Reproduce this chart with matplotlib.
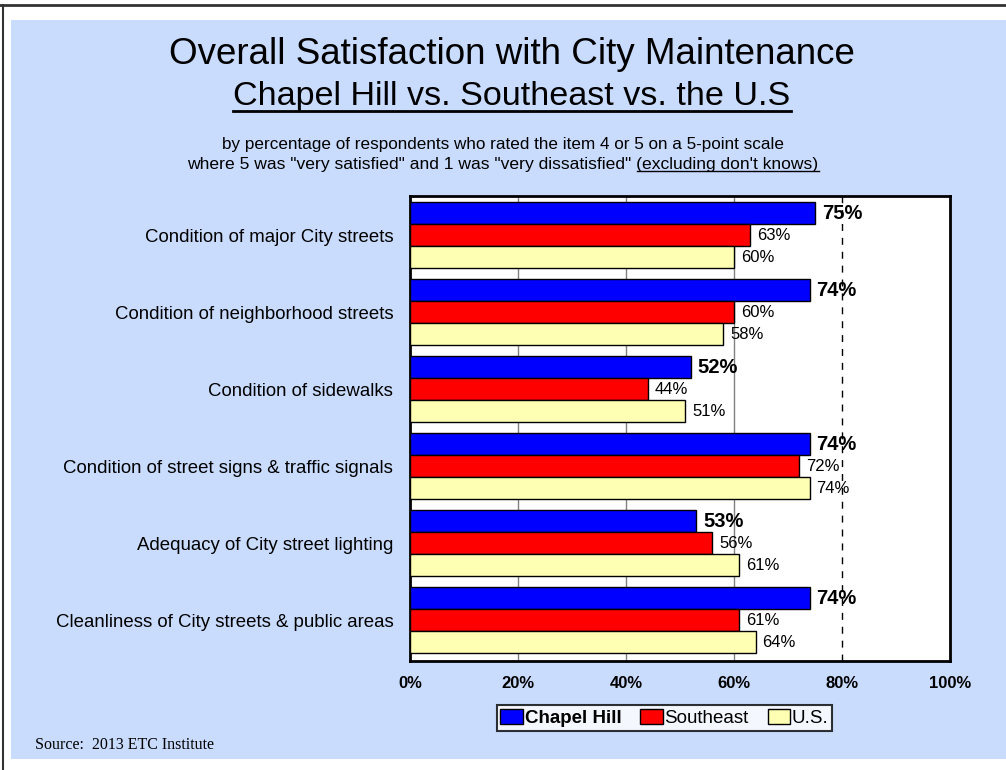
import matplotlib.pyplot as plt
from matplotlib.patches import Rectangle, Patch
from matplotlib.lines import Line2D

plt.rcParams['font.family'] = ['Liberation Sans', 'DejaVu Sans']

categories = [
    "Condition of major City streets",
    "Condition of neighborhood streets",
    "Condition of sidewalks",
    "Condition of street signs & traffic signals",
    "Adequacy of City street lighting",
    "Cleanliness of City streets & public areas",
]
chapel_hill = [75, 74, 52, 74, 53, 74]
southeast = [63, 60, 44, 72, 56, 61]
us = [60, 58, 51, 74, 61, 64]
series_names = ["Chapel Hill", "Southeast", "U.S."]
colors = ["#0000FF", "#FF0000", "#FFFFB3"]
xticks = [0, 20, 40, 60, 80, 100]

W, H = 1006, 770
fig = plt.figure(figsize=(W / 100, H / 100), dpi=100)
fig.patch.set_facecolor("white")

# light blue panel and frame lines
fig.add_artist(Rectangle((11 / W, 1 - 759 / H), (W - 11) / W, (759 - 20) / H,
                         transform=fig.transFigure, facecolor="#C9DCFE", edgecolor="none", zorder=0))
fig.add_artist(Line2D([0, 1], [1 - 4.5 / H, 1 - 4.5 / H], transform=fig.transFigure, color="#333333", lw=2))
fig.add_artist(Line2D([2.5 / W, 2.5 / W], [0, 1 - 4.5 / H], transform=fig.transFigure, color="#333333", lw=1.5))

ax = fig.add_axes([410 / W, 1 - 661 / H, 540 / W, 465 / H])
ax.set_facecolor("white")

bh = 22 / 77
for i in range(len(categories)):
    for j, vals in enumerate([chapel_hill, southeast, us]):
        y = i + bh * (j + 0.5)
        ax.barh(y, vals[i], height=bh, color=colors[j], edgecolor="black", linewidth=1, zorder=3)
        if j == 0:
            ax.annotate(f"{vals[i]}%", (vals[i], y), xytext=(5, 0), textcoords="offset points",
                        va="center", ha="left", fontsize=14.5, fontweight="bold", zorder=5)
        else:
            ax.annotate(f"{vals[i]}%", (vals[i], y), xytext=(5, 0), textcoords="offset points",
                        va="center", ha="left", fontsize=12, zorder=5)

for x in [20, 40, 60]:
    ax.axvline(x, color="#808080", lw=1, zorder=1)
ax.axvline(80, color="black", lw=1, linestyle=(0, (5, 5)), zorder=4)

ax.set_xlim(0, 100)
ax.set_ylim(5.961, -0.078)
ax.set_xticks(xticks)
ax.set_xticklabels([f"{x}%" for x in xticks], fontsize=12, fontweight="bold")
ax.set_yticks([i + 1.5 * bh for i in range(len(categories))])
ax.set_yticklabels(categories, fontsize=13.4)
ax.tick_params(axis="both", length=0)
ax.tick_params(axis="x", pad=11)
ax.tick_params(axis="y", pad=12)
for s in ax.spines.values():
    s.set_linewidth(2)
    s.set_color("black")

# titles
fig.text(0.509, 1 - 54 / H, "Overall Satisfaction with City Maintenance", ha="center", va="center", fontsize=26.5)
t2 = fig.text(0.509, 1 - 96 / H, "Chapel Hill vs. Southeast vs. the U.S", ha="center", va="center", fontsize=24.6)
fig.text(0.5, 1 - 145 / H, "by percentage of respondents who rated the item 4 or 5 on a 5-point scale",
         ha="center", va="center", fontsize=12.3)
line2a = "where 5 was \"very satisfied\" and 1 was \"very dissatisfied\" "
line2b = "(excluding don't knows)"
ta = fig.text(0.5, 1 - 164 / H, line2a + line2b, ha="center", va="center", fontsize=12.6)

fig.canvas.draw()
r = fig.canvas.get_renderer()

# underline the second title line
bb = t2.get_window_extent(r)
fig.add_artist(Line2D([bb.x0 / W, bb.x1 / W], [1 - 111 / H, 1 - 111 / H],
                      transform=fig.transFigure, color="black", lw=2))

# underline the "(excluding don't knows)" part
full = ta.get_window_extent(r)
tmp = fig.text(0, 0, line2b, fontsize=12.6)
wb = tmp.get_window_extent(r).width
tmp.remove()
fig.add_artist(Line2D([(full.x1 - wb) / W, full.x1 / W], [(full.y0 + 1) / H, (full.y0 + 1) / H],
                      transform=fig.transFigure, color="black", lw=1))

handles = [Patch(facecolor=c, edgecolor="black", linewidth=1) for c in colors]
leg = fig.legend(handles, series_names, loc="center", bbox_to_anchor=(664.5 / W, 1 - 718 / H),
                 ncol=3, fontsize=13.5, frameon=True, fancybox=False, edgecolor="black",
                 handlelength=1.2, handleheight=0.8, handletextpad=0.1, columnspacing=1.0,
                 borderpad=0.2)
leg.get_frame().set_linewidth(1.5)
leg.get_texts()[0].set_fontweight("bold")

fig.text(35 / W, 1 - 745 / H, "Source:  2013 ETC Institute", ha="left", va="center",
         fontsize=11.5, family=["Liberation Serif", "DejaVu Serif"])

fig.savefig("out.png", dpi=100)
